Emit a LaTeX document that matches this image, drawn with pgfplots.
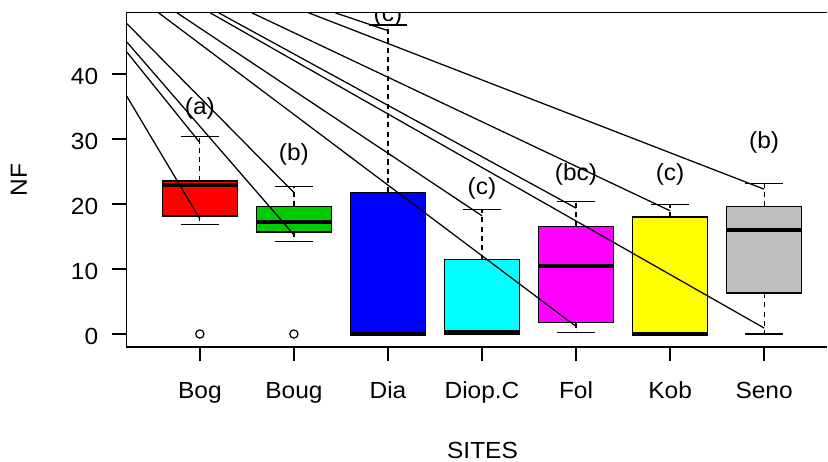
\documentclass[border=0pt]{standalone}
\usepackage{fontspec}
\setmainfont{Liberation Sans}[FakeStretch=1.05]
\usepackage{pgfplots}
\pgfplotsset{compat=1.18}
\usepgfplotslibrary{statistics}

\definecolor{rred}{HTML}{FF0000}
\definecolor{rgreen}{HTML}{00CD00}
\definecolor{rblue}{HTML}{0000FF}
\definecolor{rcyan}{HTML}{00FFFF}
\definecolor{rmagenta}{HTML}{FF00FF}
\definecolor{ryellow}{HTML}{FFFF00}
\definecolor{rgray}{HTML}{BEBEBE}

\newcommand{\lblfont}{\fontsize{17.5}{21}\selectfont}

\pgfplotsset{
  rbox/.style={
    draw=black, line width=1.1pt,
    boxplot/draw direction=y,
    boxplot/box extend=0.8,
    boxplot/whisker extend=0.4,
    boxplot/every median/.style={line width=3pt},
    boxplot/draw/lower whisker/.code={%
      \draw[line width=0.9pt, dash pattern=on 3.8pt off 3.2pt]
        (boxplot box cs:\pgfplotsboxplotvalue{lower quartile},0.5)
        -- (boxplot box cs:\pgfplotsboxplotvalue{lower whisker},0.5);
      \draw[line width=0.9pt]
        (boxplot whisker cs:\pgfplotsboxplotvalue{lower whisker},0)
        -- (boxplot whisker cs:\pgfplotsboxplotvalue{lower whisker},1);
    },
    boxplot/draw/upper whisker/.code={%
      \draw[line width=0.9pt, dash pattern=on 3.8pt off 3.2pt]
        (boxplot box cs:\pgfplotsboxplotvalue{upper quartile},0.5)
        -- (boxplot box cs:\pgfplotsboxplotvalue{upper whisker},0.5);
      \draw[line width=0.9pt]
        (boxplot whisker cs:\pgfplotsboxplotvalue{upper whisker},0)
        -- (boxplot whisker cs:\pgfplotsboxplotvalue{upper whisker},1);
    },
  },
  dline/.style={black, line width=0.95pt, mark=none},
}

\begin{document}
\begin{tikzpicture}
\begin{axis}[
  at={(0pt,0pt)}, anchor=south west,
  scale only axis, width=526.05pt, height=250.9pt,
  xmin=0.22, xmax=7.672, ymin=-2, ymax=49.4,
  clip=false,
  axis x line*=bottom, axis y line*=left,
  axis line style={line width=1pt, black},
  xtick={1,2,3,4,5,6,7},
  xticklabels={Bog,Boug,Dia,Diop.C,Fol,Kob,Seno},
  ytick={0,10,20,30,40},
  tick align=outside, major tick length=10.7pt,
  tick style={line width=1pt, black},
  tick label style={font=\lblfont},
  /pgf/number format/assume math mode=true,
  xticklabel style={yshift=-12pt},
  yticklabel style={xshift=-7pt, yshift=-2pt},
  label style={font=\lblfont, inner sep=0pt},
  xlabel={SITES}, ylabel={NF},
  xlabel style={at={(axis description cs:0.508,-0.309)}, anchor=center},
  ylabel style={at={(axis description cs:-0.1535,0.5)}, anchor=center},
]
% top frame line
\draw[line width=1pt, black] (rel axis cs:0,1) -- (rel axis cs:1,1);
% boxes
\addplot[rbox, fill=rred, boxplot prepared={draw position=1, lower whisker=16.79, lower quartile=18.18, median=22.94, upper quartile=23.56, upper whisker=30.42}] coordinates {};
\addplot[rbox, fill=rgreen, boxplot prepared={draw position=2, lower whisker=14.23, lower quartile=15.67, median=17.15, upper quartile=19.61, upper whisker=22.68}] coordinates {};
\addplot[rbox, fill=rblue, boxplot prepared={draw position=3, lower whisker=0, lower quartile=0, median=0, upper quartile=21.76, upper whisker=47.53}] coordinates {};
\addplot[rbox, fill=rcyan, boxplot prepared={draw position=4, lower whisker=0, lower quartile=0, median=0.25, upper quartile=11.42, upper whisker=19.15}] coordinates {};
\addplot[rbox, fill=rmagenta, boxplot prepared={draw position=5, lower whisker=0.25, lower quartile=1.78, median=10.49, upper quartile=16.53, upper whisker=20.33}] coordinates {};
\addplot[rbox, fill=ryellow, boxplot prepared={draw position=6, lower whisker=0, lower quartile=0, median=0, upper quartile=17.98, upper whisker=19.87}] coordinates {};
\addplot[rbox, fill=rgray, boxplot prepared={draw position=7, lower whisker=0, lower quartile=6.30, median=15.92, upper quartile=19.61, upper whisker=23.14}] coordinates {};
% outliers
\addplot[only marks, mark=o, mark size=3.1pt, black, mark options={line width=0.9pt}] coordinates {(1,0) (2,0)};
% diagonal lines
\addplot[dline] coordinates {(0.22,36.64) (1,17.72)};
\addplot[dline] coordinates {(0.22,43.42) (1,29.44)};
\addplot[dline] coordinates {(0.22,44.96) (2,15.26)};
\addplot[dline] coordinates {(0.22,47.79) (2,21.76)};
\addplot[dline] coordinates {(2.438,49.4) (3,46.65)};
\addplot[dline] coordinates {(0.756,49.4) (4,18.18)};
\addplot[dline] coordinates {(0.561,49.4) (5,1.17)};
\addplot[dline] coordinates {(1.199,49.4) (5,19.36)};
\addplot[dline] coordinates {(1.552,49.4) (6,18.95)};
\addplot[dline] coordinates {(1.109,49.4) (7,0.92)};
\addplot[dline] coordinates {(2.155,49.4) (7,22.28)};
% group letters
\node[font=\lblfont] at (axis cs:1,34.73) {(a)};
\node[font=\lblfont] at (axis cs:2,27.63) {(b)};
\begin{scope}
\clip (rel axis cs:0,0) rectangle (rel axis cs:1,1);
\node[font=\lblfont, overlay] at (axis cs:3,49.0) {(c)};
\end{scope}
\node[font=\lblfont] at (axis cs:4,22.43) {(c)};
\node[font=\lblfont] at (axis cs:5,24.48) {(bc)};
\node[font=\lblfont] at (axis cs:6,24.48) {(c)};
\node[font=\lblfont] at (axis cs:7,29.47) {(b)};
\end{axis}
\path ([xshift=-94.95pt,yshift=-86.03pt]current axis.south west)
  rectangle ([xshift=526.05pt,yshift=260.48pt]current axis.south west);
\end{tikzpicture}
\end{document}
